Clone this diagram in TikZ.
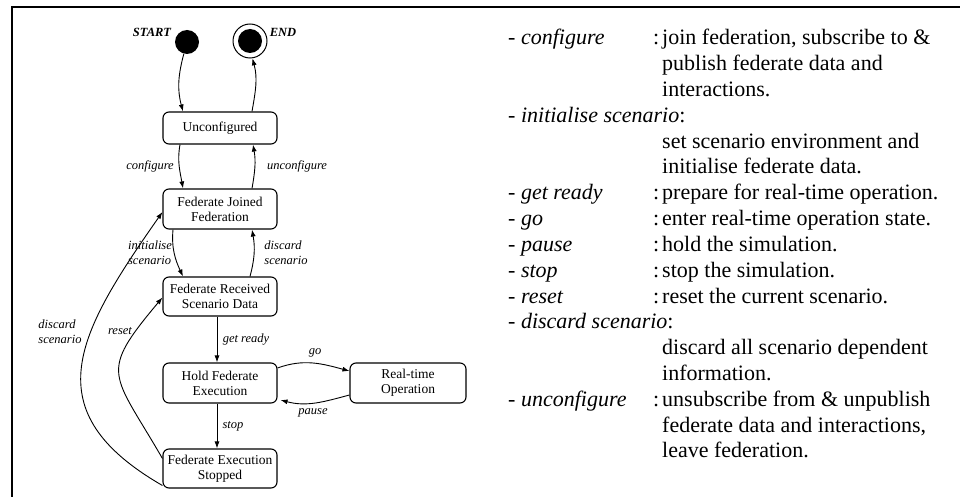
\documentclass[tikz,border=0pt]{standalone}
\usepackage{fontspec}
\setmainfont{Liberation Serif}
\usetikzlibrary{arrows.meta}

\tikzset{
  state/.style={
    draw=black, fill=white, rounded corners=6pt, line width=1.1pt,
    minimum width=114pt, minimum height=40pt,
    align=center, inner sep=2pt,
    font=\fontsize{13.5}{15}\selectfont
  },
  startstate/.style={
    circle, fill=black, minimum size=24pt, inner sep=0pt
  },
  endstate/.style={
    circle, draw=black, line width=1pt, minimum size=34pt, inner sep=0pt,
    path picture={\fill[black] (path picture bounding box.center) circle (12pt);}
  },
  trans/.style={
    draw=black, line width=0.9pt, -{Latex[length=7pt,width=5pt]}
  },
  trlabel/.style={
    inner sep=1pt, align=left,
    font=\fontsize{12.5}{15}\selectfont\itshape
  },
  endlabel/.style={
    inner sep=0pt, font=\fontsize{12.5}{15}\selectfont\bfseries\itshape
  },
  legend/.style={
    anchor=base west, inner sep=0pt,
    font=\fontsize{22}{26}\selectfont
  },
}

\begin{document}
\begin{tikzpicture}[x=1pt, y=-1pt]

\useasboundingbox (0,0) rectangle (960,497);

%% Frame (top and left edge only)
\draw[line width=1.2pt] (12,497) -- (12,7) -- (960,7);

%% Pseudo states
\node[startstate] (start) at (187,42) {};
\node[endstate] (end) at (250,41) {};
\node[endlabel] (startlbl) at (152,32) {START};
\node[endlabel] (endlbl) at (283,32) {END};

%% States
\node[state, minimum height=32pt] (unconf) at (220,128) {Unconfigured};
\node[state] (joined) at (220,209) {Federate Joined\\Federation};
\node[state, minimum height=39pt] (received) at (220,296.5) {Federate Received\\Scenario Data};
\node[state] (hold) at (220,383) {Hold Federate\\Execution};
\node[state, minimum width=116pt] (realtime) at (408,383) {Real-time\\Operation};
\node[state, minimum height=39pt] (stopped) at (220,468.5) {Federate Execution\\Stopped};

%% Transitions
\draw[trans] (start.-105) to[out=-105,in=105] ([xshift=-37pt]unconf.north);
\draw[trans] ([xshift=32pt]unconf.north) to[out=80,in=-75] (end.-82);
\draw[trans] ([xshift=-40pt]unconf.south) to[out=-100,in=100] ([xshift=-37pt]joined.north);
\draw[trans] ([xshift=32pt]joined.north) to[out=80,in=-80] ([xshift=33pt]unconf.south);
\draw[trans] ([xshift=-47pt]joined.south) to[out=-95,in=115] ([xshift=-37pt]received.north);
\draw[trans] ([xshift=30pt]received.north) to[out=75,in=-80] ([xshift=32pt]joined.south);
\draw[trans] ([xshift=-3pt]received.south) -- ([xshift=-3pt]hold.north);
\draw[trans] ([yshift=15pt]hold.east) to[out=20,in=165] ([yshift=12pt]realtime.west);
\draw[trans] ([yshift=-12pt]realtime.west) to[out=-165,in=-15] ([xshift=3pt,yshift=-17pt]hold.east);
\draw[trans] ([xshift=-3pt]hold.south) -- ([xshift=-3pt]stopped.north);
\draw[trans] ([yshift=10pt]stopped.west) to[out=120,in=230,looseness=1.6] ([yshift=-1pt]received.west);
\draw[trans] ([yshift=-17pt]stopped.west) to[out=150,in=235,looseness=1.4] ([yshift=-3pt]joined.west);

%% Transition labels
\node[trlabel] (lconf) at (150,166) {configure};
\node[trlabel] (lunconf) at (297,166) {unconfigure};
\node[trlabel] (linit) at (150,253) {initialise\\scenario};
\node[trlabel] (ldisc) at (286,253) {discard\\scenario};
\node[trlabel] (lready) at (246,340) {get ready};
\node[trlabel] (lgo) at (315,353) {go};
\node[trlabel] (lpause) at (313,413) {pause};
\node[trlabel] (lstop) at (233,426) {stop};
\node[trlabel] (lreset) at (120,331) {reset};
\node[trlabel] (ldiscout) at (60,332) {discard\\scenario};

%% Legend
\node[legend] (k1) at (508,45) {- \textit{configure}};
\node[legend] (c1) at (653,45) {:};
\node[legend] (d1) at (662,45) {join federation, subscribe to \&};
\node[legend] (d1b) at (662,70.8) {publish federate data and};
\node[legend] (d1c) at (662,96.6) {interactions.};

\node[legend] (k2) at (508,122.4) {- \textit{initialise scenario}:};
\node[legend] (d2) at (662,148.2) {set scenario environment and};
\node[legend] (d2b) at (662,174) {initialise federate data.};

\node[legend] (k3) at (508,199.8) {- \textit{get ready}};
\node[legend] (c3) at (653,199.8) {:};
\node[legend] (d3) at (662,199.8) {prepare for real-time operation.};

\node[legend] (k4) at (508,225.6) {- \textit{go}};
\node[legend] (c4) at (653,225.6) {:};
\node[legend] (d4) at (662,225.6) {enter real-time operation state.};

\node[legend] (k5) at (508,251.4) {- \textit{pause}};
\node[legend] (c5) at (653,251.4) {:};
\node[legend] (d5) at (662,251.4) {hold the simulation.};

\node[legend] (k6) at (508,277.2) {- \textit{stop}};
\node[legend] (c6) at (653,277.2) {:};
\node[legend] (d6) at (662,277.2) {stop the simulation.};

\node[legend] (k7) at (508,303) {- \textit{reset}};
\node[legend] (c7) at (653,303) {:};
\node[legend] (d7) at (662,303) {reset the current scenario.};

\node[legend] (k8) at (508,328.8) {- \textit{discard scenario}:};
\node[legend] (d8) at (662,354.6) {discard all scenario dependent};
\node[legend] (d8b) at (662,380.4) {information.};

\node[legend] (k9) at (508,406.2) {- \textit{unconfigure}};
\node[legend] (c9) at (653,406.2) {:};
\node[legend] (d9) at (662,406.2) {unsubscribe from \& unpublish};
\node[legend] (d9b) at (662,432) {federate data and interactions,};
\node[legend] (d9c) at (662,457.8) {leave federation.};

\end{tikzpicture}
\end{document}
